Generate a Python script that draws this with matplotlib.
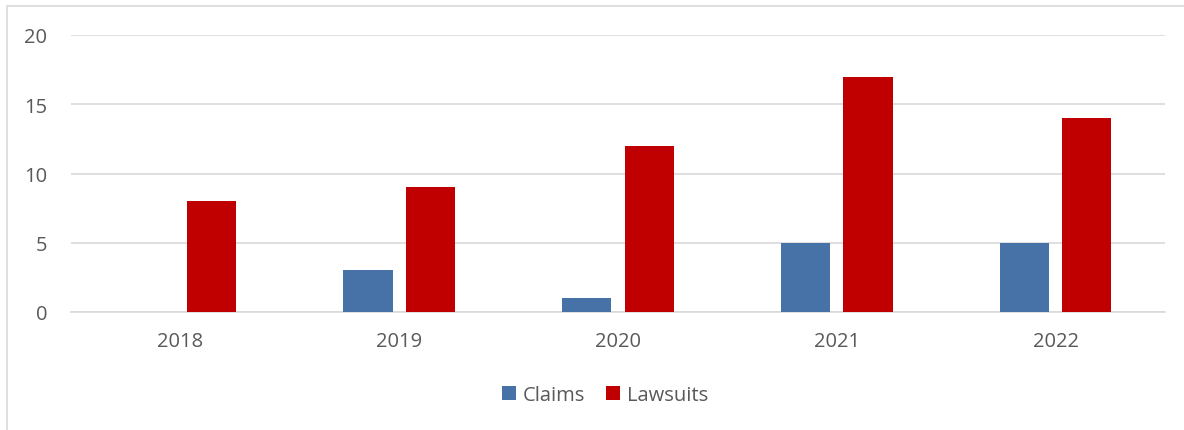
import matplotlib
matplotlib.use("Agg")
import matplotlib.pyplot as plt
import numpy as np
from matplotlib.patches import Rectangle

years = ["2018", "2019", "2020", "2021", "2022"]
claims = [0, 3, 1, 5, 5]
lawsuits = [8, 9, 12, 17, 14]
yticks = [0, 5, 10, 15, 20]

W, H = 1184, 431
fig = plt.figure(figsize=(W/100, H/100), dpi=100)
fig.patch.set_facecolor("white")

# outer chart border
fig.add_artist(Rectangle((7/W, -0.05), 1.2, (H-7)/H + 0.05, transform=fig.transFigure,
                         fill=False, edgecolor="#D9D9D9", linewidth=1.2))

ax = fig.add_axes([71/W, 1-313/H, (1165-71)/W, (313-36)/H])
x = np.arange(len(years))
bw = 0.225
off = 0.1425
ax.bar(x - off, claims, bw, color="#4672A8", label="Claims", zorder=3)
ax.bar(x + off, lawsuits, bw, color="#C00000", label="Lawsuits", zorder=3)

ax.set_xlim(-0.5, len(years) - 0.5)
ax.set_ylim(0, 20)
ax.set_yticks(yticks)
ax.set_yticklabels([str(v) for v in yticks])
ax.set_xticks(x)
ax.set_xticklabels(years)
ax.yaxis.grid(True, color="#D9D9D9", linewidth=1.2, zorder=0)
ax.set_axisbelow(True)
for s in ["top", "right", "left"]:
    ax.spines[s].set_visible(False)
ax.spines["bottom"].set_color("#D9D9D9")
ax.spines["bottom"].set_linewidth(1.2)
ax.tick_params(axis="both", length=0, labelsize=14.5, labelcolor="#595959")
ax.tick_params(axis="y", pad=17)
ax.tick_params(axis="x", pad=14)
for t in ax.get_xticklabels() + ax.get_yticklabels():
    t.set_fontfamily("Open Sans")

leg = fig.legend(loc="center", bbox_to_anchor=(605/W, 1-396/H), ncol=2, frameon=False,
                 handlelength=0.7, handleheight=0.7, handletextpad=0.35, columnspacing=1.0,
                 prop={"family": "Open Sans", "size": 14.5})
for t in leg.get_texts():
    t.set_color("#595959")

fig.savefig("out.png", dpi=100)
